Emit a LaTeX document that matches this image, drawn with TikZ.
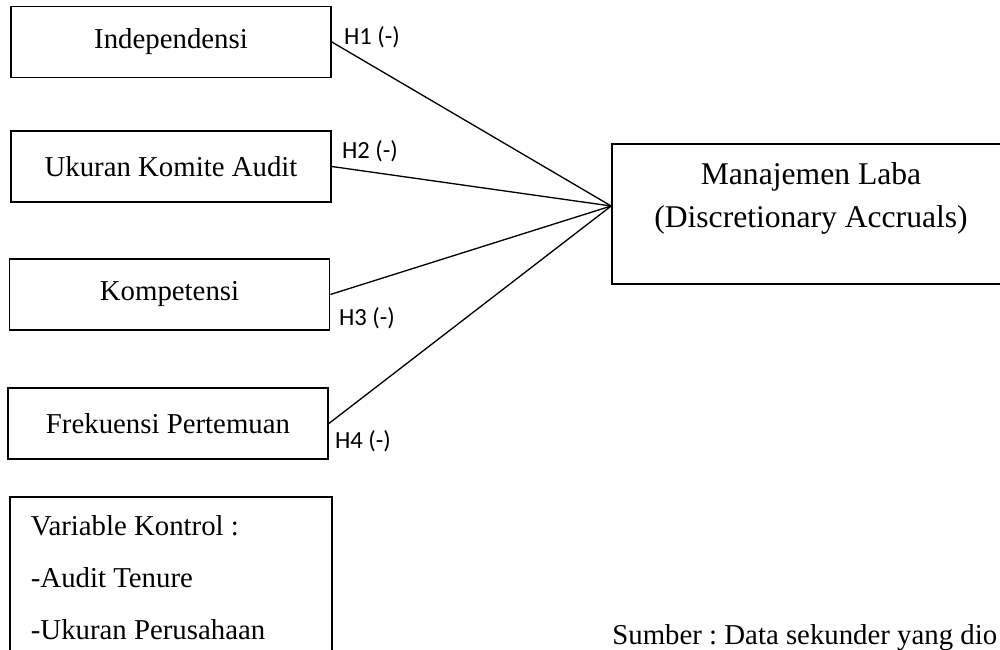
\documentclass[tikz,border=0pt]{standalone}
\usepackage{fontspec}
\setmainfont{Liberation Serif}
\newfontfamily\hypfont{Carlito}
\usetikzlibrary{positioning}
\frenchspacing

\begin{document}
\begin{tikzpicture}[
  x=0.02cm, y=-0.02cm,
  var/.style  = {draw, line width=1pt, minimum width=6.4cm, minimum height=1.42cm,
                 inner sep=0pt, font=\fontsize{16.4}{20}\selectfont},
  ctrl/.style = {draw, line width=1pt, text width=5.6cm, inner xsep=0.42cm,
                 minimum height=3.24cm, align=flush left,
                 font=\fontsize{16.4}{29.6}\selectfont},
  dep/.style  = {draw, line width=1pt, minimum width=7.96cm, minimum height=2.8cm},
  hyp/.style  = {inner sep=0pt, font=\hypfont\fontsize{14}{16}\selectfont},
  link/.style = {line width=0.75pt},
]
  \useasboundingbox (0,0) rectangle (1000,649);
  \clip (0,0) rectangle (1000,649);

  \node[var] (indep)  at (171,42)    {Independensi};
  \node[var] (ukuran) at (171,166.5) {Ukuran Komite Audit};
  \node[var] (kompet) at (169.5,294.5) {Kompetensi};
  \node[var] (frek)   at (168,423.5) {Frekuensi Pertemuan};
  \node[ctrl, anchor=north west] (kontrol) at (9,496)
    {Variable Kontrol :\\-Audit Tenure\\-Ukuran Perusahaan};

  \node[dep] (laba) at (811,214) {};
  \node[align=center, font=\fontsize{18}{24.5}\selectfont] (labatext) at (811,198)
    {Manajemen Laba\\(Discretionary Accruals)};
  \coordinate[yshift=0.16cm] (meet) at (laba.west);

  \draw[link] (indep.east)  -- (meet);
  \draw[link] (ukuran.east) -- (meet);
  \draw[link] (kompet.east) -- (meet);
  \draw[link] (frek.east)   -- (meet);

  \node[hyp] (h1) at (372,37)  {H1 (-)};
  \node[hyp] (h2) at (370,151) {H2 (-)};
  \node[hyp] (h3) at (367,318) {H3 (-)};
  \node[hyp] (h4) at (363,441) {H4 (-)};

  \node[anchor=base west, inner sep=0pt, font=\fontsize{16.4}{20}\selectfont]
    (sumber) at (612,644) {Sumber : Data sekunder yang dio};
\end{tikzpicture}
\end{document}
